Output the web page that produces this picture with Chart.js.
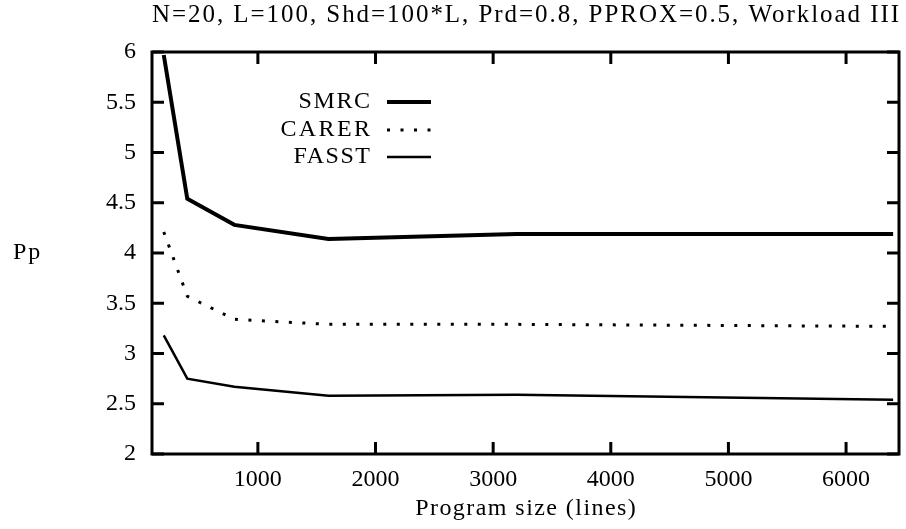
<!DOCTYPE html>
<html>
<head>
<meta charset="utf-8">
<script src="https://cdn.jsdelivr.net/npm/chart.js@4/dist/chart.umd.min.js"></script>
<style>
  html, body { margin: 0; padding: 0; background: #fff; }
</style>
</head>
<body>
<canvas id="c" width="906" height="529"></canvas>
<script>
// data
const programSize = [200, 400, 800, 1600, 3200, 6400];
const smrc  = [5.97, 4.54, 4.28, 4.14, 4.19, 4.19];
const carer = [4.21, 3.57, 3.34, 3.29, 3.29, 3.27];
const fasst = [3.18, 2.75, 2.67, 2.58, 2.59, 2.54];
const xTicks = [1000, 2000, 3000, 4000, 5000, 6000];
const yTicks = [2, 2.5, 3, 3.5, 4, 4.5, 5, 5.5, 6];

const titleText = 'N=20, L=100, Shd=100*L, Prd=0.8, PPROX=0.5, Workload III';
const FONT = '"Liberation Serif", serif';

const pts = ys => programSize.map((x, i) => ({ x: x, y: ys[i] }));

// draw text stretched (letter spacing) to a given width, like the CM font of the original
function spacedText(ctx, text, x, y, width) {
  ctx.letterSpacing = '0px';
  const w = ctx.measureText(text).width;
  const ls = (width - w) / text.length;
  ctx.letterSpacing = ls + 'px';
  // letterSpacing adds space after the last char too
  let dx = 0;
  if (ctx.textAlign === 'center') dx = ls / 2;
  if (ctx.textAlign === 'right') dx = ls;
  ctx.fillText(text, x + dx, y);
  ctx.letterSpacing = '0px';
}

// frame with inward ticks, titles and legend (gnuplot look)
const gnuplotFrame = {
  id: 'gnuplotFrame',
  afterDatasetsDraw(chart) {
    const ctx = chart.ctx;
    const a = chart.chartArea;
    const xs = chart.scales.x, ys = chart.scales.y;
    const tl = 12;
    ctx.save();
    ctx.strokeStyle = '#000';
    ctx.lineWidth = 3;
    ctx.lineCap = 'butt';
    ctx.strokeRect(a.left, a.top, a.right - a.left, a.bottom - a.top);
    ctx.beginPath();
    xTicks.forEach(v => {
      const px = xs.getPixelForValue(v);
      ctx.moveTo(px, a.bottom); ctx.lineTo(px, a.bottom - tl);
      ctx.moveTo(px, a.top); ctx.lineTo(px, a.top + tl);
    });
    yTicks.forEach(v => {
      const py = ys.getPixelForValue(v);
      ctx.moveTo(a.left, py); ctx.lineTo(a.left + tl, py);
      ctx.moveTo(a.right, py); ctx.lineTo(a.right - tl, py);
    });
    ctx.stroke();

    // texts
    ctx.fillStyle = '#000';
    ctx.font = '25px ' + FONT;
    ctx.textBaseline = 'alphabetic';
    ctx.textAlign = 'center';
    const cx = (a.left + a.right) / 2;
    spacedText(ctx, titleText, cx, 22, 749);
    ctx.font = '24px ' + FONT;
    spacedText(ctx, 'Program size (lines)', cx, 515, 222);
    ctx.textAlign = 'left';
    spacedText(ctx, 'Pp', 13, 259, 29);

    // legend
    const rows = [102, 130, 157];
    const widths = [73, 92, 78];
    chart.data.datasets.forEach((ds, i) => {
      const y = rows[i];
      ctx.textAlign = 'right';
      ctx.textBaseline = 'middle';
      spacedText(ctx, ds.label, 370, y, widths[i]);
      ctx.beginPath();
      ctx.lineWidth = ds.borderWidth;
      ctx.setLineDash(ds.borderDash || []);
      ctx.moveTo(387, y);
      ctx.lineTo(431, y);
      ctx.stroke();
      ctx.setLineDash([]);
    });
    ctx.restore();
  }
};

new Chart(document.getElementById('c'), {
  type: 'line',
  data: {
    datasets: [
      { label: 'SMRC', data: pts(smrc), borderColor: '#000', borderWidth: 4, pointRadius: 0 },
      { label: 'CARER', data: pts(carer), borderColor: '#000', borderWidth: 3, borderDash: [3, 10.5], borderCapStyle: 'butt', pointRadius: 0 },
      { label: 'FASST', data: pts(fasst), borderColor: '#000', borderWidth: 2.5, pointRadius: 0 }
    ]
  },
  options: {
    responsive: false,
    animation: false,
    devicePixelRatio: 1,
    layout: { padding: { top: 52, right: 7, bottom: 0, left: 0 } },
    plugins: {
      legend: { display: false },
      tooltip: { enabled: false }
    },
    scales: {
      x: {
        type: 'linear',
        min: 100,
        max: 6450,
        grid: { display: false, drawTicks: false },
        border: { display: false },
        afterBuildTicks: s => { s.ticks = xTicks.map(v => ({ value: v })); },
        afterFit: s => { s.height = 75; },
        ticks: {
          color: '#000',
          padding: 11,
          maxRotation: 0,
          font: { family: FONT, size: 24 },
          callback: v => String(v)
        }
      },
      y: {
        min: 2,
        max: 6,
        grid: { display: false, drawTicks: false },
        border: { display: false },
        afterBuildTicks: s => { s.ticks = yTicks.map(v => ({ value: v })); },
        afterFit: s => { s.width = 152; },
        ticks: {
          color: '#000',
          padding: 16,
          font: { family: FONT, size: 24 },
          callback: v => String(v)
        }
      }
    }
  },
  plugins: [gnuplotFrame]
});
</script>
</body>
</html>
